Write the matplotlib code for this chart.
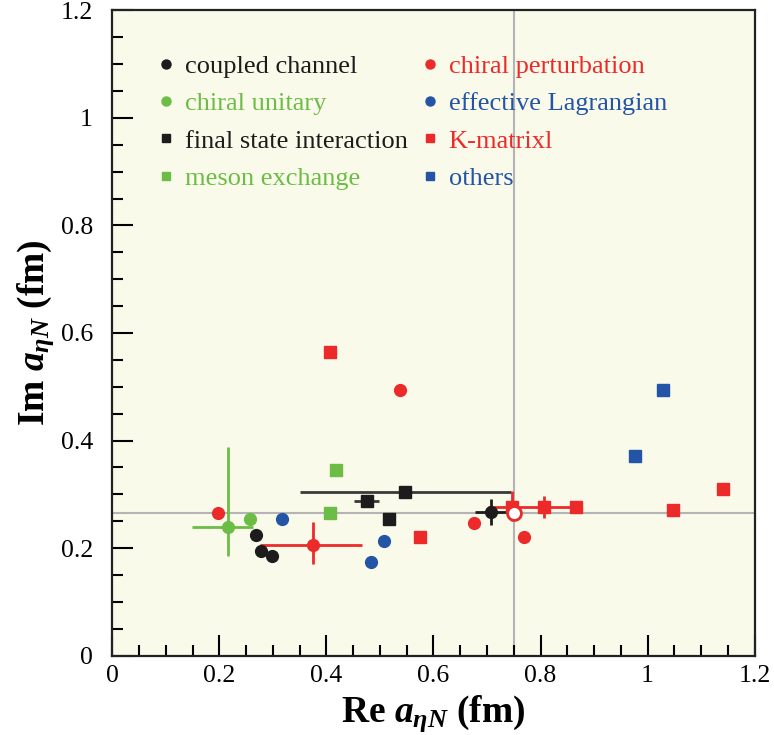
import matplotlib
matplotlib.use("Agg")
from matplotlib import pyplot as plt
from matplotlib.lines import Line2D
from matplotlib.ticker import MultipleLocator

plt.rcParams['font.family'] = ['Liberation Serif', 'DejaVu Serif']
plt.rcParams['mathtext.fontset'] = 'custom'
plt.rcParams['mathtext.rm'] = 'Liberation Serif:bold'
plt.rcParams['mathtext.it'] = 'Liberation Serif:bold:italic'
plt.rcParams['mathtext.bf'] = 'Liberation Serif:bold'

RED = '#ec2a2a'
GREEN = '#6cbd45'
BLUE = '#2354a5'
BLACK = '#1c1c1c'

# coupled channel (circles)
cc_x = [0.268, 0.278, 0.298, 0.707]
cc_y = [0.224, 0.195, 0.185, 0.267]
cc_xerr = [0, 0, 0, 0.03]
cc_yerr = [0, 0, 0, 0.025]

# chiral unitary (circles)
cu_x = [0.217, 0.258]
cu_y = [0.239, 0.254]
cu_xerr = [[0.068, 0], [0.046, 0]]
cu_yerr = [[0.054, 0], [0.149, 0]]

# chiral perturbation (circles)
cp_x = [0.198, 0.375, 0.537, 0.676, 0.769]
cp_y = [0.265, 0.206, 0.494, 0.246, 0.221]
cp_xerr = [[0, 0.099, 0, 0, 0], [0, 0.091, 0, 0, 0]]
cp_yerr = [[0, 0.036, 0, 0, 0], [0, 0.042, 0, 0, 0]]

# effective Lagrangian (circles)
el_x = [0.317, 0.507, 0.483]
el_y = [0.254, 0.214, 0.175]

# final state interaction (squares)
fsi_x = [0.476, 0.517, 0.547]
fsi_y = [0.288, 0.254, 0.305]
fsi_xerr = [[0.025, 0, 0.197], [0.023, 0, 0.198]]

# meson exchange (squares)
me_x = [0.418, 0.407]
me_y = [0.345, 0.265]

# K-matrixl (squares)
km_x = [0.407, 0.574, 0.746, 0.806, 0.866, 1.048, 1.140]
km_y = [0.564, 0.221, 0.276, 0.276, 0.276, 0.271, 0.310]
km_xerr = [[0, 0, 0, 0.105, 0, 0, 0], [0, 0, 0, 0.07, 0, 0, 0]]
km_yerr = [[0, 0, 0.025, 0.02, 0, 0, 0], [0, 0, 0.03, 0.02, 0, 0, 0]]

# others (squares)
ot_x = [0.977, 1.028]
ot_y = [0.371, 0.494]

# reference value (open circle) and cross lines
ref_x = 0.75
ref_y = 0.265

fig = plt.figure(figsize=(7.74, 7.35), dpi=100)
ax = fig.add_axes([0.145, 0.108, 0.83, 0.878])
ax.set_facecolor('#fafaeb')

ax.axvline(ref_x, color='#b4b4b4', lw=1.5, zorder=1)
ax.axhline(ref_y, color='#b4b4b4', lw=1.5, zorder=1)

ms_c = 8.5
ms_s = 8
ax.errorbar(fsi_x, fsi_y, xerr=fsi_xerr, fmt='s', color=BLACK, ecolor='#3a3a3a',
            ms=ms_s, elinewidth=2, zorder=3)
ax.errorbar(cc_x, cc_y, xerr=cc_xerr, yerr=cc_yerr, fmt='o', color=BLACK,
            ms=ms_c, elinewidth=2, zorder=3)
ax.errorbar(cu_x, cu_y, xerr=cu_xerr, yerr=cu_yerr, fmt='o', color=GREEN,
            ms=ms_c, elinewidth=2, zorder=3)
ax.errorbar(me_x, me_y, fmt='s', color=GREEN, ms=ms_s, zorder=3)
ax.errorbar(km_x, km_y, xerr=km_xerr, yerr=km_yerr, fmt='s', color=RED,
            ms=ms_s, elinewidth=2, zorder=3)
ax.errorbar(cp_x, cp_y, xerr=cp_xerr, yerr=cp_yerr, fmt='o', color=RED,
            ms=ms_c, elinewidth=2, zorder=3)
ax.errorbar(el_x, el_y, fmt='o', color=BLUE, ms=ms_c, zorder=3)
ax.errorbar(ot_x, ot_y, fmt='s', color=BLUE, ms=ms_s, zorder=3)
ax.plot([ref_x], [ref_y], 'o', mfc='white', mec=RED, mew=2, ms=10, zorder=4)

ax.set_xlim(0, 1.2)
ax.set_ylim(0, 1.2)
ax.xaxis.set_major_locator(MultipleLocator(0.2))
ax.yaxis.set_major_locator(MultipleLocator(0.2))
ax.xaxis.set_minor_locator(MultipleLocator(0.05))
ax.yaxis.set_minor_locator(MultipleLocator(0.05))
ax.tick_params(which='both', direction='in', top=False, right=False,
               width=1.5, labelsize=18.5)
ax.tick_params(which='major', length=15)
ax.tick_params(which='minor', length=8)
ax.tick_params(axis='x', pad=7)
ax.tick_params(axis='y', pad=14)
ax.xaxis.set_major_formatter(plt.FuncFormatter(lambda v, p: '%g' % round(v, 2)))
ax.yaxis.set_major_formatter(plt.FuncFormatter(lambda v, p: '%g' % round(v, 2)))
for s in ax.spines.values():
    s.set_linewidth(1.6)
    s.set_color('#222222')

ax.set_xlabel(r'Re $a_{\eta N}$ (fm)', fontsize=27, fontweight='bold', labelpad=4)
ax.set_ylabel(r'Im $a_{\eta N}$ (fm)', fontsize=27, fontweight='bold', labelpad=3)

handles = [
    Line2D([], [], ls='none', marker='o', color=BLACK, ms=6.5, label='coupled channel'),
    Line2D([], [], ls='none', marker='o', color=GREEN, ms=6.5, label='chiral unitary'),
    Line2D([], [], ls='none', marker='s', color=BLACK, ms=6, label='final state interaction'),
    Line2D([], [], ls='none', marker='s', color=GREEN, ms=6, label='meson exchange'),
    Line2D([], [], ls='none', marker='o', color=RED, ms=6.5, label='chiral perturbation'),
    Line2D([], [], ls='none', marker='o', color=BLUE, ms=6.5, label='effective Lagrangian'),
    Line2D([], [], ls='none', marker='s', color=RED, ms=6, label='K-matrixl'),
    Line2D([], [], ls='none', marker='s', color=BLUE, ms=6, label='others'),
]
leg = ax.legend(handles=handles, ncol=2, loc='upper left', bbox_to_anchor=(0.035, 0.968),
                frameon=False, fontsize=19, handlelength=0.6, handletextpad=0.4,
                labelspacing=0.52, columnspacing=0.55, labelcolor='markerfacecolor')

fig.savefig('out.png', dpi=100)
